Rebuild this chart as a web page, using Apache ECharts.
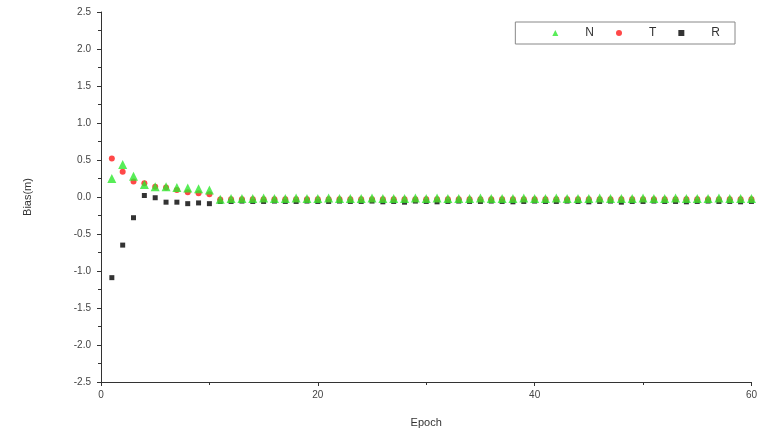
<!DOCTYPE html>
<html>
<head>
<meta charset="utf-8">
<script src="https://cdn.jsdelivr.net/npm/echarts@6/dist/echarts.min.js"></script>
<style>
  html, body { margin: 0; padding: 0; background: #fff; }
  #chart { width: 760px; height: 435px; }
</style>
</head>
<body>
<div id="chart"></div>
<script>
// Per-epoch bias of the N / T / R components (metres), epochs 1..60
const epochs = Array.from({ length: 60 }, (_, i) => i + 1);

const biasN = [
  0.25, 0.44, 0.28, 0.17, 0.14, 0.14, 0.13, 0.12, 0.11, 0.095,
  -0.03, -0.02, -0.02, -0.02, -0.015, -0.02, -0.02, -0.015, -0.02, -0.02,
  -0.015, -0.02, -0.02, -0.02, -0.015, -0.02, -0.02, -0.02, -0.015, -0.02,
  -0.015, -0.02, -0.02, -0.02, -0.015, -0.02, -0.02, -0.02, -0.015, -0.02,
  -0.02, -0.015, -0.02, -0.02, -0.02, -0.015, -0.02, -0.02, -0.02, -0.015,
  -0.02, -0.02, -0.015, -0.02, -0.02, -0.02, -0.015, -0.02, -0.02, -0.02
];

const biasT = [
  0.52, 0.34, 0.21, 0.185, 0.14, 0.13, 0.095, 0.063, 0.05, 0.036,
  -0.035, -0.03, -0.03, -0.03, -0.03, -0.03, -0.03, -0.03, -0.03, -0.03,
  -0.03, -0.03, -0.03, -0.03, -0.03, -0.03, -0.03, -0.03, -0.03, -0.03,
  -0.03, -0.03, -0.03, -0.03, -0.03, -0.03, -0.03, -0.03, -0.03, -0.03,
  -0.03, -0.03, -0.03, -0.03, -0.03, -0.03, -0.03, -0.03, -0.03, -0.03,
  -0.03, -0.03, -0.03, -0.03, -0.03, -0.03, -0.03, -0.03, -0.03, -0.03
];

const biasR = [
  -1.09, -0.65, -0.28, 0.02, -0.01, -0.07, -0.07, -0.09, -0.08, -0.09,
  -0.06, -0.06, -0.055, -0.06, -0.06, -0.055, -0.06, -0.06, -0.055, -0.06,
  -0.06, -0.055, -0.06, -0.06, -0.055, -0.065, -0.06, -0.07, -0.055, -0.06,
  -0.065, -0.06, -0.055, -0.06, -0.06, -0.055, -0.06, -0.065, -0.06, -0.055,
  -0.06, -0.06, -0.055, -0.06, -0.065, -0.06, -0.055, -0.07, -0.06, -0.06,
  -0.055, -0.06, -0.06, -0.065, -0.06, -0.055, -0.06, -0.06, -0.065, -0.06
];

const xTicks = { min: 0, max: 60, step: 20 };
const yTicks = { min: -2.5, max: 2.5, step: 0.5 };

const pairs = (vals) => epochs.map((e, i) => [e, vals[i]]);

const FONT = 'Liberation Sans, Arial, sans-serif';
const axisFont = { fontFamily: FONT, color: '#444', fontSize: 10 };

const chart = echarts.init(document.getElementById('chart'));
chart.setOption({
  animation: false,
  backgroundColor: '#fff',
  grid: { left: 101, right: 8, top: 12, bottom: 53 },
  legend: {
    data: ['N', 'T', 'R'],
    top: 22,
    right: 25,
    orient: 'horizontal',
    itemWidth: 6,
    itemHeight: 6,
    itemGap: 22,
    padding: [5, 15, 5, 37],
    borderColor: '#888',
    borderWidth: 1,
    textStyle: { fontFamily: FONT, fontSize: 12, color: '#333', padding: [0, 0, 0, 22] }
  },
  xAxis: {
    type: 'value',
    min: xTicks.min,
    max: xTicks.max,
    interval: xTicks.step,
    name: 'Epoch',
    nameLocation: 'middle',
    nameGap: 35,
    nameTextStyle: { fontFamily: FONT, fontSize: 11, color: '#333' },
    axisLine: { onZero: false, lineStyle: { color: '#333', width: 1 } },
    axisTick: { show: true, length: 4, lineStyle: { color: '#333' } },
    minorTick: { show: true, splitNumber: 2, length: 3, lineStyle: { color: '#333' } },
    splitLine: { show: false },
    axisLabel: Object.assign({ margin: 8 }, axisFont)
  },
  yAxis: {
    type: 'value',
    min: yTicks.min,
    max: yTicks.max,
    interval: yTicks.step,
    name: 'Bias(m)',
    nameLocation: 'middle',
    nameGap: 68,
    nameRotate: 90,
    nameTextStyle: { fontFamily: FONT, fontSize: 11, color: '#333' },
    axisLine: { show: true, onZero: false, lineStyle: { color: '#333', width: 1 } },
    axisTick: { show: true, length: 4, lineStyle: { color: '#333' } },
    minorTick: { show: true, splitNumber: 2, length: 3, lineStyle: { color: '#333' } },
    splitLine: { show: false },
    axisLabel: Object.assign({ margin: 10, formatter: (v) => v.toFixed(1) }, axisFont)
  },
  series: [
    {
      name: 'R', type: 'scatter', data: pairs(biasR),
      symbol: 'rect', symbolSize: 5,
      itemStyle: { color: '#000' }, z: 2
    },
    {
      name: 'T', type: 'scatter', data: pairs(biasT),
      symbol: 'circle', symbolSize: 6,
      itemStyle: { color: '#ff1a1a' }, z: 3
    },
    {
      name: 'N', type: 'scatter', data: pairs(biasN),
      symbol: 'triangle', symbolSize: 9,
      itemStyle: { color: '#2ee82e' }, z: 4
    }
  ]
});
</script>
</body>
</html>
